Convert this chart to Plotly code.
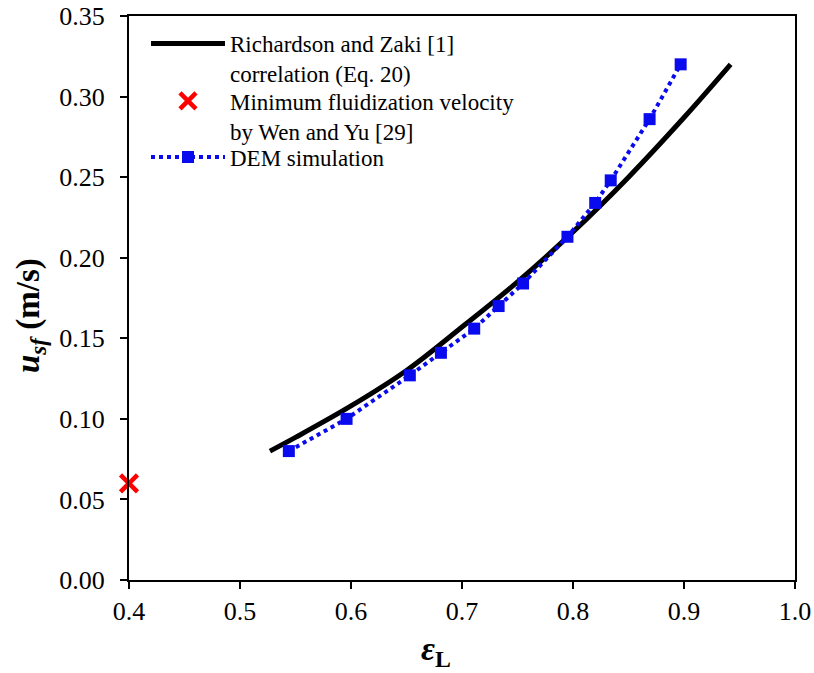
import plotly.graph_objects as go

# Richardson and Zaki correlation
rz_eps = [0.527, 0.55, 0.60, 0.65, 0.70, 0.75, 0.80, 0.85, 0.90, 0.942]
rz_u = [0.080, 0.0885, 0.108, 0.130, 0.157, 0.185, 0.216, 0.250, 0.287, 0.320]

# Minimum fluidization velocity (Wen and Yu)
mf_eps = [0.40]
mf_u = [0.06]

# DEM simulation
dem_eps = [0.544, 0.596, 0.653, 0.681, 0.711, 0.733, 0.755, 0.795, 0.820, 0.834, 0.869, 0.897]
dem_u = [0.080, 0.100, 0.127, 0.141, 0.156, 0.170, 0.184, 0.213, 0.234, 0.248, 0.286, 0.320]

x_ticks = [0.4, 0.5, 0.6, 0.7, 0.8, 0.9, 1.0]
y_ticks = [0.00, 0.05, 0.10, 0.15, 0.20, 0.25, 0.30, 0.35]

FONT = "Liberation Serif"
W, H = 814, 673
PX0, PX1, PY0, PY1 = 129, 795, 16, 580  # plot area in screenshot pixels
L = PX0
T = PY0
PW = PX1 - PX0
PH = PY1 - PY0
R = W - L - PW
B = H - T - PH


def px_x(p):
    return (p - PX0) / PW


def px_y(p):
    return 1 - (p - PY0) / PH


fig = go.Figure()
fig.add_trace(go.Scatter(
    x=rz_eps, y=rz_u, mode="lines", line=dict(color="black", width=5, shape="spline"),
    name="Richardson and Zaki [1]<br>correlation (Eq. 20)", legend="legend"))
fig.add_trace(go.Scatter(
    x=mf_eps, y=mf_u, mode="markers", cliponaxis=False,
    marker=dict(symbol="x-thin", size=17, line=dict(color="red", width=4.5), color="red"),
    name="Minimum fluidization velocity<br>by Wen and Yu [29]", legend="legend2"))
fig.add_trace(go.Scatter(
    x=dem_eps, y=dem_u, mode="lines+markers",
    line=dict(color="#0a0aee", width=4, dash="dot"),
    marker=dict(symbol="square", size=12, color="#0a0aee"),
    name="DEM simulation", legend="legend3"))

axis_common = dict(showgrid=False, zeroline=False, showline=True, linecolor="black", linewidth=2,
                   mirror=True, ticks="outside", ticklen=7, tickwidth=2, tickcolor="black",
                   automargin=False, tickfont=dict(family=FONT, size=26))

leg_common = dict(xanchor="left", yanchor="middle", bgcolor="rgba(0,0,0,0)",
                  font=dict(family=FONT, size=23), valign="top", itemwidth=74)

fig.update_layout(
    width=W, height=H,
    margin=dict(l=L, r=R, t=T, b=B),
    paper_bgcolor="white", plot_bgcolor="white",
    font=dict(family=FONT, size=24, color="black"),
    showlegend=True,
    legend=dict(x=px_x(146), y=px_y(58.5), **leg_common),
    legend2=dict(x=px_x(146), y=px_y(116), **leg_common),
    legend3=dict(x=px_x(146), y=px_y(157), **leg_common),
    xaxis=dict(range=[0.4, 1.0], tickvals=x_ticks, ticktext=[f"{v:.1f}" for v in x_ticks],
               ticklabelstandoff=0, **axis_common),
    yaxis=dict(range=[0, 0.35], tickvals=y_ticks, ticktext=[f"{v:.2f}" for v in y_ticks],
               ticklabelstandoff=10, **axis_common),
    annotations=[
        dict(text="<b><i>ε</i><sub>L</sub></b>", xref="paper", yref="paper",
             x=px_x(436), y=px_y(651), xanchor="center", yanchor="middle",
             showarrow=False, font=dict(family=FONT, size=34)),
        dict(text="<b><i>u<sub>sf</sub></i> (m/s)</b>", xref="paper", yref="paper",
             x=px_x(30), y=px_y(316), xanchor="center", yanchor="middle",
             textangle=-90, showarrow=False, font=dict(family=FONT, size=33)),
    ],
)

fig.write_html(
    "out.html",
    config={"displayModeBar": False},
    post_script="document.body.style.margin='0px';document.body.style.overflow='hidden';",
)
